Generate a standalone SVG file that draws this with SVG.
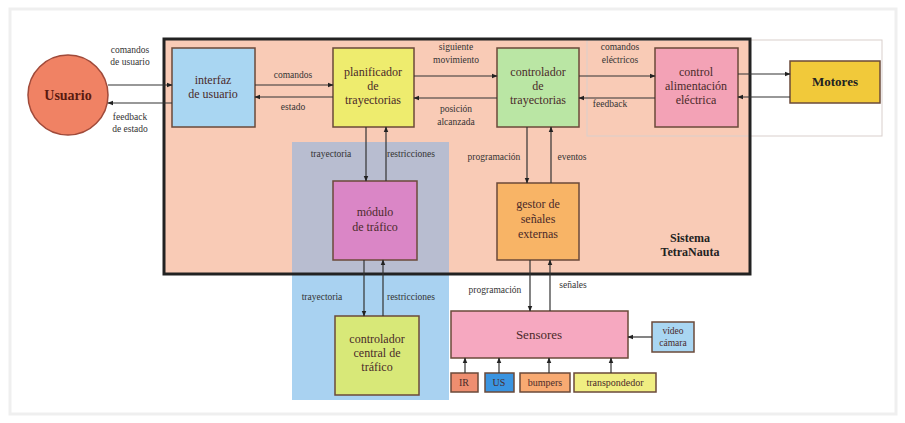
<svg xmlns="http://www.w3.org/2000/svg" width="905" height="423" viewBox="0 0 905 423" font-family="'Liberation Serif', 'Times New Roman', serif">
<defs>
<marker id="ah" viewBox="0 0 10 10" refX="9" refY="5" markerWidth="6" markerHeight="6" orient="auto" markerUnits="userSpaceOnUse">
<path d="M0,1 L10,5 L0,9 z" fill="#222"/>
</marker>
</defs>
<style>
.box{stroke:#6b4a3a;stroke-width:1.5}
.t{font-family:'Liberation Serif','Times New Roman',serif;font-size:12px;fill:#4a2a2a;text-anchor:middle}
.lb{font-family:'Liberation Serif','Times New Roman',serif;font-size:9.5px;fill:#333;text-anchor:middle}
.b{font-weight:bold;fill:#222}
.c line{stroke:#333;stroke-width:1.2;fill:none;marker-end:url(#ah)}
</style>
<rect x="0" y="0" width="905" height="423" fill="#fff"/>
<rect x="10" y="9" width="886" height="405" fill="none" stroke="#efefef" stroke-width="3"/>
<g id="sistema">
<rect x="164" y="39" width="586" height="235" fill="#f9cbb6"/>
</g>
<g id="zona-trafico">
<rect x="292" y="142" width="157" height="132" fill="#b8bdd0"/>
<rect x="292" y="274" width="157" height="126" fill="#a9d2f1"/>
</g>
<rect x="587" y="40" width="295" height="96" fill="none" stroke="#d9cfcc" stroke-width="1"/>
<rect x="164" y="39" width="586" height="235" fill="none" stroke="#222" stroke-width="3"/>
<text class="t b" x="690" y="242" font-size="11">Sistema</text>
<text class="t b" x="690" y="256" font-size="11">TetraNauta</text>

<g id="usuario">
<circle cx="68" cy="95" r="40" fill="#f08264" stroke="#a04a3a" stroke-width="1.5"/>
<text class="t b" x="68" y="100" style="font-size:14px;fill:#5a1a10">Usuario</text>
</g>
<g id="interfaz">
<rect class="box" x="172" y="48" width="83" height="79" fill="#a9d6f2"/>
<text class="t" x="213" y="84">interfaz</text>
<text class="t" x="213" y="98">de usuario</text>
</g>
<g id="planificador">
<rect class="box" x="333" y="48" width="81" height="79" fill="#eeec6e"/>
<text class="t" x="373" y="76">planificador</text>
<text class="t" x="373" y="90">de</text>
<text class="t" x="373" y="104">trayectorias</text>
</g>
<g id="controlador">
<rect class="box" x="497" y="48" width="82" height="79" fill="#bae6a4"/>
<text class="t" x="538" y="76">controlador</text>
<text class="t" x="538" y="90">de</text>
<text class="t" x="538" y="104">trayectorias</text>
</g>
<g id="alimentacion">
<rect class="box" x="655" y="48" width="83" height="79" fill="#f3a2b6"/>
<text class="t" x="696" y="76">control</text>
<text class="t" x="696" y="90">alimentación</text>
<text class="t" x="696" y="104">eléctrica</text>
</g>
<g id="motores">
<rect class="box" x="790" y="61" width="90" height="42" fill="#f1c93a"/>
<text class="t b" x="835" y="86" style="font-size:13px">Motores</text>
</g>
<g id="modulo-trafico">
<rect class="box" x="333" y="181" width="84" height="79" fill="#da86c6"/>
<text class="t" x="375" y="216">módulo</text>
<text class="t" x="375" y="231">de tráfico</text>
</g>
<g id="gestor">
<rect class="box" x="497" y="183" width="82" height="77" fill="#f8b466"/>
<text class="t" x="538" y="208">gestor de</text>
<text class="t" x="538" y="223">señales</text>
<text class="t" x="538" y="238">externas</text>
</g>
<g id="central">
<rect class="box" x="335" y="316" width="84" height="79" fill="#d8e878"/>
<text class="t" x="377" y="343">controlador</text>
<text class="t" x="377" y="357">central de</text>
<text class="t" x="377" y="371">tráfico</text>
</g>
<g id="sensores">
<rect class="box" x="451" y="311" width="177" height="47" fill="#f6a8c0"/>
<text class="t" x="539" y="339" style="font-size:13px">Sensores</text>
</g>
<g id="video">
<rect class="box" x="652" y="322" width="42" height="30" fill="#a9d6f2" stroke="#3a6a9a"/>
<text class="t" x="673" y="334" style="font-size:9.5px">vídeo</text>
<text class="t" x="673" y="346" style="font-size:9.5px">cámara</text>
</g>
<g id="ir">
<rect class="box" x="451" y="373" width="27" height="19" fill="#ee8e70"/>
<text class="t" x="464" y="386" style="font-size:10px">IR</text>
</g>
<g id="us">
<rect class="box" x="485" y="373" width="29" height="19" fill="#3a94e0" stroke="#2a5a9a"/>
<text class="t" x="499" y="386" style="font-size:10px">US</text>
</g>
<g id="bumpers">
<rect class="box" x="520" y="373" width="50" height="19" fill="#f8aa72"/>
<text class="t" x="545" y="386" style="font-size:10px">bumpers</text>
</g>
<g id="transpondedor">
<rect class="box" x="574" y="373" width="82" height="19" fill="#f0ee82"/>
<text class="t" x="615" y="386" style="font-size:10px">transpondedor</text>
</g>

<g id="conectores" class="c">
<line x1="108" y1="85" x2="172" y2="85"/>
<line x1="172" y1="103" x2="108" y2="103"/>
<line x1="255" y1="85" x2="333" y2="85"/>
<line x1="333" y1="97" x2="255" y2="97"/>
<line x1="414" y1="76" x2="497" y2="76"/>
<line x1="497" y1="98" x2="414" y2="98"/>
<line x1="579" y1="76" x2="655" y2="76"/>
<line x1="655" y1="98" x2="579" y2="98"/>
<line x1="738" y1="74" x2="790" y2="74"/>
<line x1="790" y1="97" x2="738" y2="97"/>
<line x1="366" y1="127" x2="366" y2="181"/>
<line x1="386" y1="181" x2="386" y2="127"/>
<line x1="527" y1="127" x2="527" y2="183"/>
<line x1="551" y1="183" x2="551" y2="127"/>
<line x1="364" y1="260" x2="364" y2="316"/>
<line x1="383" y1="316" x2="383" y2="260"/>
<line x1="530" y1="260" x2="530" y2="311"/>
<line x1="550" y1="311" x2="550" y2="260"/>
<line x1="652" y1="337" x2="628" y2="337"/>
<line x1="465" y1="373" x2="465" y2="358"/>
<line x1="499" y1="373" x2="499" y2="358"/>
<line x1="549" y1="373" x2="549" y2="358"/>
<line x1="611" y1="373" x2="611" y2="358"/>
</g>

<g id="etiquetas">
<text class="lb" x="130" y="53">comandos</text>
<text class="lb" x="130" y="65">de usuario</text>
<text class="lb" x="130" y="120">feedback</text>
<text class="lb" x="130" y="132">de estado</text>
<text class="lb" x="293" y="78">comandos</text>
<text class="lb" x="293" y="110">estado</text>
<text class="lb" x="456" y="50">siguiente</text>
<text class="lb" x="456" y="63">movimiento</text>
<text class="lb" x="456" y="112">posición</text>
<text class="lb" x="456" y="125">alcanzada</text>
<text class="lb" x="620" y="50">comandos</text>
<text class="lb" x="620" y="63">eléctricos</text>
<text class="lb" x="610" y="107">feedback</text>
<text class="lb" x="331" y="157">trayectoria</text>
<text class="lb" x="411" y="157">restricciones</text>
<text class="lb" x="494" y="160">programación</text>
<text class="lb" x="572" y="160">eventos</text>
<text class="lb" x="322" y="300">trayectoria</text>
<text class="lb" x="411" y="300">restricciones</text>
<text class="lb" x="495" y="293">programación</text>
<text class="lb" x="573" y="288">señales</text>
</g>
</svg>
